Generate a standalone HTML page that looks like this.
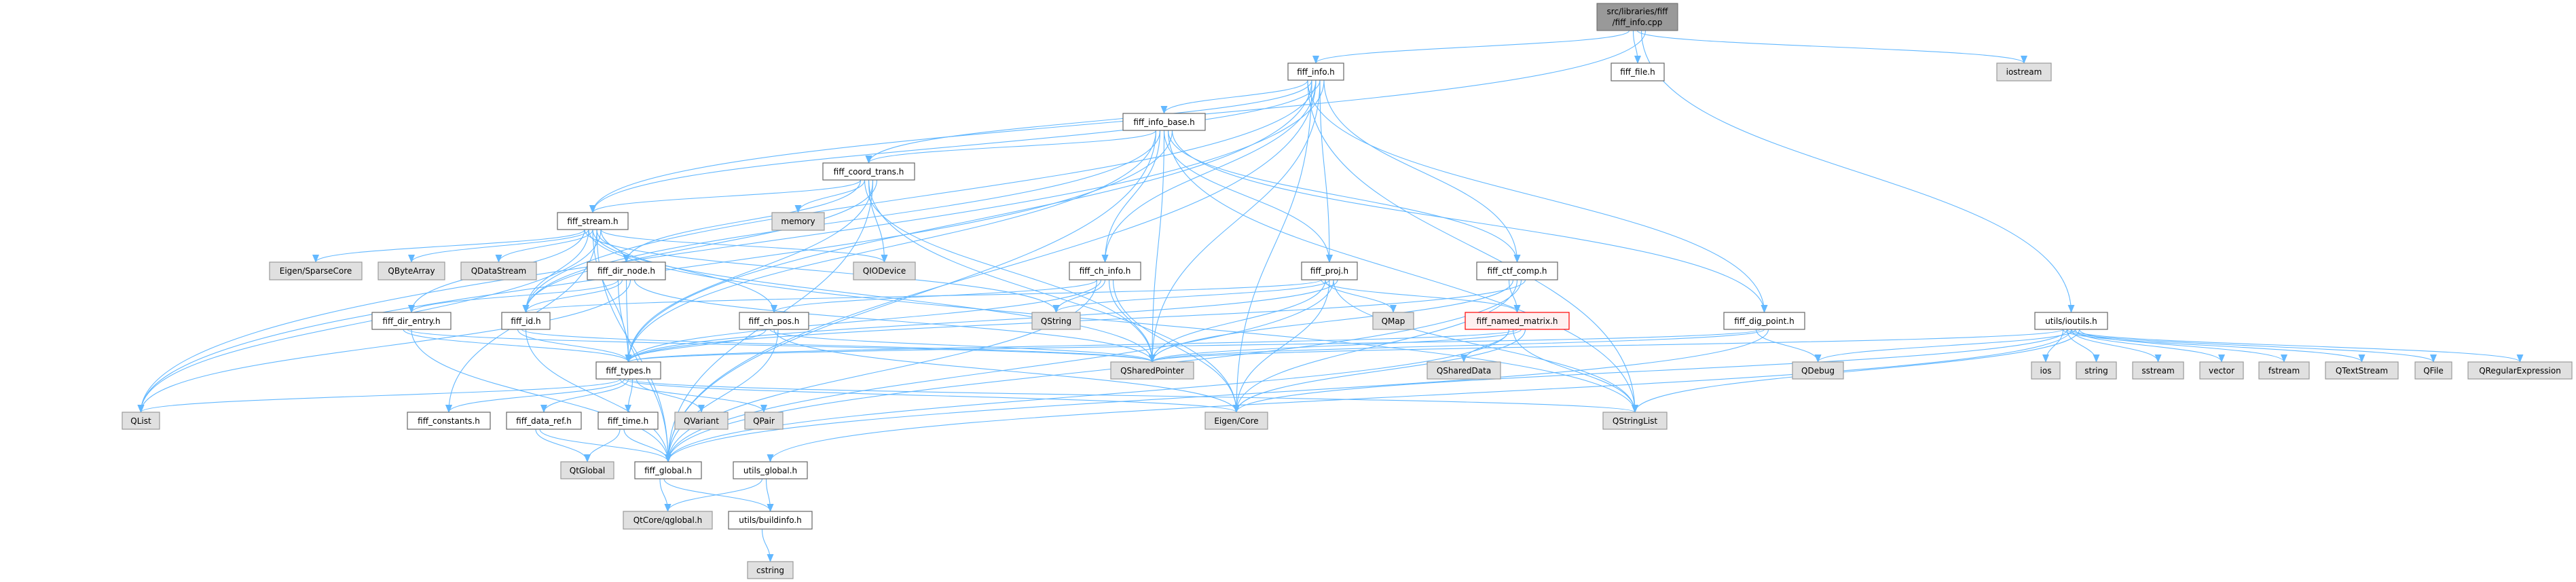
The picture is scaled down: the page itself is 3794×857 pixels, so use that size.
<!DOCTYPE html>
<html><head><meta charset="utf-8">
<style>
html,body{margin:0;padding:0;background:#fff;}
svg{display:block;}
text{font-family:"DejaVu Sans","Liberation Sans",sans-serif;font-size:12px;fill:#000;}
</style></head>
<body>
<svg id="g" width="3794" height="857" viewBox="0 0 3794 857" xmlns="http://www.w3.org/2000/svg">
<defs>
<marker id="ar" markerWidth="12" markerHeight="10" refX="11" refY="5" orient="auto" markerUnits="userSpaceOnUse">
<path d="M0,0 L12,5 L0,10 z" fill="#63b8ff"/>
</marker>
</defs>
<g id="edges" fill="none" stroke="#63b8ff" stroke-width="1.1"></g>
<g id="nodes">
<rect x="2352" y="5" width="119" height="40" fill="#999" stroke="#666"/>
</g>
<g id="labels" text-anchor="middle">
<text x="2411.5" y="21">src/libraries/fiff</text>
<text x="2411.5" y="37">/fiff_info.cpp</text>
<text x="1938" y="110">fiff_info.h</text>
<text x="2412" y="110">fiff_file.h</text>
<text x="2981" y="110">iostream</text>
<text x="1714.5" y="184">fiff_info_base.h</text>
<text x="1279.5" y="257">fiff_coord_trans.h</text>
<text x="873" y="330">fiff_stream.h</text>
<text x="1175.5" y="330">memory</text>
<text x="465" y="403">Eigen/SparseCore</text>
<text x="606" y="403">QByteArray</text>
<text x="734.5" y="403">QDataStream</text>
<text x="922.5" y="403">fiff_dir_node.h</text>
<text x="1302.5" y="403">QIODevice</text>
<text x="1627.5" y="403">fiff_ch_info.h</text>
<text x="1958" y="403">fiff_proj.h</text>
<text x="2234.5" y="403">fiff_ctf_comp.h</text>
<text x="606" y="477">fiff_dir_entry.h</text>
<text x="774.5" y="477">fiff_id.h</text>
<text x="1140" y="477">fiff_ch_pos.h</text>
<text x="1555.5" y="477">QString</text>
<text x="2052" y="477">QMap</text>
<text x="2234.5" y="477">fiff_named_matrix.h</text>
<text x="2598.5" y="477">fiff_dig_point.h</text>
<text x="3050.5" y="477">utils/ioutils.h</text>
<text x="925.5" y="550">fiff_types.h</text>
<text x="1697" y="550">QSharedPointer</text>
<text x="2156" y="550">QSharedData</text>
<text x="2677.5" y="550">QDebug</text>
<text x="3013" y="550">ios</text>
<text x="3087.5" y="550">string</text>
<text x="3178.5" y="550">sstream</text>
<text x="3272" y="550">vector</text>
<text x="3364" y="550">fstream</text>
<text x="3478.5" y="550">QTextStream</text>
<text x="3584" y="550">QFile</text>
<text x="3711.5" y="550">QRegularExpression</text>
<text x="207.5" y="624">QList</text>
<text x="661" y="624">fiff_constants.h</text>
<text x="801" y="624">fiff_data_ref.h</text>
<text x="925" y="624">fiff_time.h</text>
<text x="1033" y="624">QVariant</text>
<text x="1125" y="624">QPair</text>
<text x="1821" y="624">Eigen/Core</text>
<text x="2408" y="624">QStringList</text>
<text x="865" y="697">QtGlobal</text>
<text x="984" y="697">fiff_global.h</text>
<text x="1134.5" y="697">utils_global.h</text>
<text x="983.5" y="770">QtCore/qglobal.h</text>
<text x="1134.5" y="770">utils/buildinfo.h</text>
<text x="1134.5" y="844">cstring</text>
</g>
</svg>
<script>
var N={
cpp:[2352,2471,5,45,'',0],
info:[1897,1979,93,118,'',0],
file:[2373,2451,93,119,'',0],
iostream:[2941,3021,93,119,'',1],
base:[1654,1775,167,192,'',0],
coord:[1212,1347,240,265,'',0],
stream:[821,925,313,338,'',0],
memory:[1137,1214,313,339,'',1],
sparse:[397,533,386,412,'',1],
qbyte:[557,655,386,412,'',1],
qdata:[679,790,386,412,'',1],
dirnode:[865,980,386,412,'',0],
qiodev:[1257,1348,386,412,'',1],
chinfo:[1575,1680,386,412,'',0],
proj:[1917,1999,386,412,'',0],
ctf:[2175,2294,386,412,'',0],
direntry:[548,664,460,485,'',0],
id:[739,810,460,485,'',0],
chpos:[1089,1191,460,485,'',0],
qstring:[1520,1591,460,485,'',1],
qmap:[2022,2082,460,485,'',1],
named:[2158,2311,460,485,'',2],
dig:[2539,2658,460,485,'',0],
ioutils:[2997,3104,460,485,'',0],
types:[878,973,533,558,'',0],
qsp:[1636,1758,533,558,'',1],
qsd:[2102,2210,533,558,'',1],
qdebug:[2640,2715,533,558,'',1],
ios:[2992,3034,533,558,'',1],
string:[3058,3117,533,558,'',1],
sstream:[3141,3216,533,558,'',1],
vector:[3240,3304,533,558,'',1],
fstream:[3327,3401,533,558,'',1],
qts:[3425,3532,533,558,'',1],
qfile:[3557,3611,533,558,'',1],
qre:[3635,3788,533,558,'',1],
qlist:[180,235,607,632,'',1],
cons:[600,722,607,632,'',0],
dataref:[746,856,607,632,'',0],
time:[881,969,607,632,'',0],
qvariant:[994,1072,607,632,'',1],
qpair:[1097,1153,607,632,'',1],
eigen:[1775,1867,607,632,'',1],
qsl:[2361,2455,607,632,'',1],
qtglobal:[826,904,680,705,'',1],
global:[935,1033,680,705,'',0],
uglobal:[1080,1189,680,705,'',0],
qglobal:[918,1049,753,779,'',1],
build:[1073,1196,753,779,'',0],
cstring:[1101,1168,827,852,'',1]
};
var E={
cpp:['info','file','iostream','ioutils','stream'],
info:['base','coord','chinfo','proj','ctf','dig','types','id','qsp','qlist','qsl','eigen','global','stream'],
base:['coord','chinfo','proj','ctf','dig','types','id','qsp','qsl','qlist','global'],
coord:['stream','memory','qiodev','types','id','dirnode','qsp','eigen','global'],
stream:['sparse','qbyte','qdata','dirnode','qiodev','direntry','id','types','cons','qlist','qstring','qsl','qsp','global','chpos'],
dirnode:['direntry','id','types','qlist','qsp','global'],
direntry:['types','qsp','global'],
id:['types','qsp','global'],
types:['qlist','cons','dataref','time','qvariant','qpair','eigen','qsl'],
dataref:['qtglobal','global'],
time:['qtglobal','global'],
global:['qglobal','build'],
uglobal:['qglobal','build'],
build:['cstring'],
chinfo:['chpos','types','qstring','qsp','eigen','global'],
chpos:['types','qsp','eigen','global'],
proj:['named','qmap','qstring','qsl','types','id','qsp','eigen','global'],
named:['qsd','qsl','types','qsp','eigen','global'],
ctf:['named','qsp','eigen','global','types'],
dig:['qdebug','types','qsp','global'],
ioutils:['ios','string','sstream','vector','fstream','qts','qfile','qre','qdebug','qsl','qsp','eigen','uglobal']
};
var ns='http://www.w3.org/2000/svg';
var eg=document.getElementById('edges'),ng=document.getElementById('nodes');
for(var s in E){var a=N[s];E[s].forEach(function(t,i){var b=N[t];
var sx=(a[0]+a[1])/2+(i%5-2)*6,sy=a[3];var tx=(b[0]+b[1])/2,ty=b[2];
var h=(ty-sy);
var p=document.createElementNS(ns,'path');
p.setAttribute('d','M'+sx+','+sy+' C'+sx+','+(sy+h*0.5)+' '+tx+','+(ty-h*0.5)+' '+tx+','+ty);
p.setAttribute('marker-end','url(#ar)');eg.appendChild(p);});}
for(var k in N){if(k=='cpp')continue;var n=N[k];
var r=document.createElementNS(ns,'rect');
r.setAttribute('x',n[0]);r.setAttribute('y',n[2]);r.setAttribute('width',n[1]-n[0]);r.setAttribute('height',n[3]-n[2]);
r.setAttribute('fill',n[5]==1?'#e0e0e0':(n[5]==2?'#fff0f0':'#fff'));
r.setAttribute('stroke',n[5]==1?'#999':(n[5]==2?'#f00':'#666'));r.setAttribute('stroke-width','1.2');
ng.appendChild(r);}
</script>
</body></html>
